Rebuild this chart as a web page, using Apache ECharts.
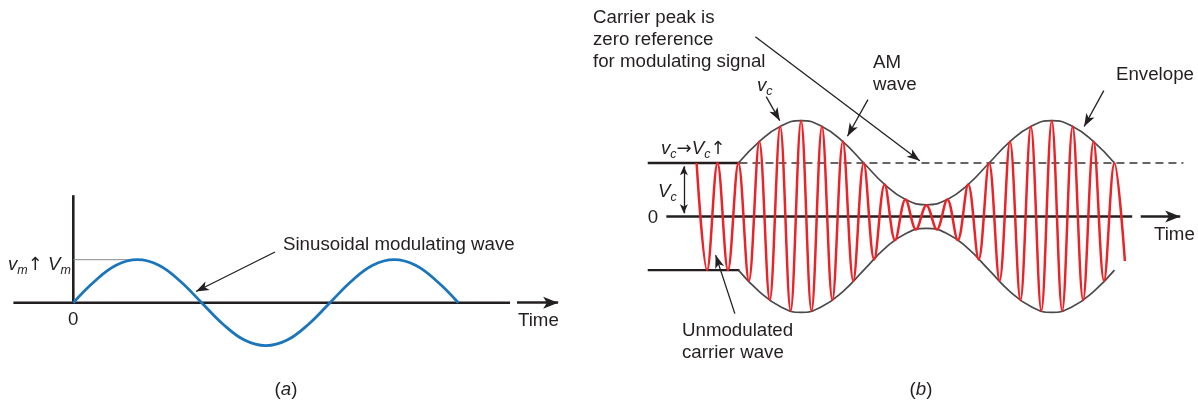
<!DOCTYPE html>
<html><head><meta charset="utf-8">
<script src="https://cdn.jsdelivr.net/npm/echarts@6/dist/echarts.min.js"></script>
<style>html,body{margin:0;padding:0;background:#fff}#c{width:1198px;height:404px}</style>
</head><body><div id="c"></div>
<script>
// ---------- Panel (a): sinusoidal modulating wave (x: phase in degrees, y: units of Vm) ----------
const sineDeg = [0,30,60,90,120,150,180,210,240,270,300,330,360,390,420,450,480,510,540];
const sineVal = [0,0.5,0.87,1,0.87,0.5,0,-0.5,-0.87,-1,-0.87,-0.5,0,0.5,0.87,1,0.87,0.5,0];

// ---------- Panel (b): AM wave (x: time in carrier periods, y: units of Vc) ----------
const carrierT = [0,0.5,1,1.5,2,2.5,3,3.5,4,4.5,5,5.5,6,6.5,7,7.5,8,8.5,9,9.5,10,10.5,
                  11,11.5,12,12.5,13,13.5,14,14.5,15,15.5,16,16.5,17,17.5,18,18.5,19,19.5,20,20.5];
const carrierV = [1,-1,1,-1,1,-1.2,1.4,-1.56,1.68,-1.76,1.79,-1.76,1.68,-1.56,1.4,-1.2,1,-0.8,0.6,-0.44,0.32,-0.24,
                  0.21,-0.24,0.32,-0.44,0.6,-0.8,1,-1.2,1.4,-1.56,1.68,-1.76,1.79,-1.76,1.68,-1.56,1.4,-1.2,1,-0.83];
const envT     = [2,3,4,5,6,7,8,9,10,11,12,13,14,15,16,17,18,19,20];
const envUpper = [1,1.4,1.68,1.79,1.68,1.4,1,0.6,0.32,0.22,0.32,0.6,1,1.4,1.68,1.79,1.68,1.4,1];
const envLower = [-1,-1.4,-1.68,-1.79,-1.68,-1.4,-1,-0.6,-0.32,-0.22,-0.32,-0.6,-1,-1.4,-1.68,-1.79,-1.68,-1.4,-1];

// reference levels and axis extents (data units)
const axisA   = [[-84,0],[612.5,0]];
const vAxisA  = [[0,0],[0,2.5]];
const vmGuide = [[0,1],[91,1]];
const axisB   = [[-1.45,0],[20.85,0]];
const carrierTop = [[-2.34,1],[2.05,1]];
const carrierBot = [[-2.34,-1],[2.05,-1]];
const zeroRef    = [[2.05,1],[23.3,1]];

const FONT = "'Liberation Sans', Arial, sans-serif";
const INK = '#231f20';
const FS = 18.7;

const pairs = (xs, ys) => xs.map((x, i) => [x, ys[i]]);

function arrow(from, to, size, width) {
  return [{coord: from, symbol: 'none', lineStyle: {width: width || 1.3, color: INK, type: 'solid'}},
          {coord: to, symbol: 'arrow', symbolSize: size}];
}

function mk(data) {
  return {silent: true, animation: false, symbol: ['none','arrow'], label: {show: false},
    emphasis: {disabled: true}, lineStyle: {color: INK, width: 1.3, type: 'solid', opacity: 1}, data: data};
}

function line(idx, data, style, extra) {
  return Object.assign({type: 'line', xAxisIndex: idx, yAxisIndex: idx, data: data, symbol: 'none',
    silent: true, animation: false, lineStyle: style, emphasis: {disabled: true}}, extra || {});
}

const RICH = {
  i: {fontStyle: 'italic', fontSize: FS, fontFamily: FONT, lineHeight: 24, fill: INK},
  s: {fontStyle: 'italic', fontSize: 12.5, fontFamily: FONT, lineHeight: 14, verticalAlign: 'bottom', fill: INK},
  n: {fontSize: FS, fontFamily: FONT, lineHeight: 24, fill: INK},
  u: {fontSize: 18, fontFamily: "'DejaVu Sans', sans-serif", lineHeight: 24, fill: INK}
};

const texts = [
  {x: 283, y: 245, t: 'Sinusoidal modulating wave'},
  {x: 518, y: 321, t: 'Time'},
  {x: 73.3, y: 320, t: '0', a: 'center'},
  {x: 8, y: 265, t: '{i|v}{s|m}{u|\u2191}{n| }{i|V}{s|m}'},
  {x: 286, y: 390, t: '{n|(}{i|a}{n|)}', a: 'center'},
  {x: 593, y: 7, t: 'Carrier peak is\nzero reference\nfor modulating signal', v: 'top'},
  {x: 873, y: 52, t: 'AM\nwave', v: 'top'},
  {x: 757, y: 86, t: '{i|v}{s|c}'},
  {x: 1116, y: 75, t: 'Envelope'},
  {x: 661, y: 149, t: '{i|v}{s|c}{u|\u2192}{i|V}{s|c}{u|\u2191}'},
  {x: 658, y: 192, t: '{i|V}{s|c}'},
  {x: 653, y: 218, t: '0', a: 'center'},
  {x: 1154, y: 235, t: 'Time'},
  {x: 682, y: 320, t: 'Unmodulated\ncarrier wave', v: 'top'},
  {x: 921, y: 390, t: '{n|(}{i|b}{n|)}', a: 'center'}
];

const chart = echarts.init(document.getElementById('c'));
chart.setOption({
  animation: false,
  backgroundColor: '#ffffff',
  grid: [
    {left: 9.13, top: 195.2, width: 556.14, height: 193.5},
    {left: 633.95, top: 2.3, width: 576.45, height: 403.5}
  ],
  xAxis: [
    {gridIndex: 0, type: 'value', min: -90, max: 690, show: false},
    {gridIndex: 1, type: 'value', min: -3, max: 24, show: false}
  ],
  yAxis: [
    {gridIndex: 0, type: 'value', min: -2, max: 2.5, show: false},
    {gridIndex: 1, type: 'value', min: -3.5, max: 4, show: false}
  ],
  series: [
    line(0, axisA, {color: INK, width: 2.6}, {markLine: mk([
      arrow([622.3,0],[680,0],[9,15],2.6),
      arrow([282.9,1.18],[172,0.26],[7,13])
    ])}),
    line(0, vAxisA, {color: INK, width: 2.6}),
    line(0, vmGuide, {color: '#8a8a8a', width: 1}),
    line(0, pairs(sineDeg, sineVal), {color: '#1a75bb', width: 2.8}, {smooth: 0.4}),

    line(1, axisB, {color: INK, width: 2.6}, {markLine: mk([
      arrow([21.26,0],[23.15,0],[9,15],2.6),
      arrow([2.81,3.355],[10.68,1.04],[7,13]),
      arrow([8.2,2.184],[7.22,1.5],[7,13]),
      arrow([3.33,2.24],[3.98,1.79],[7,13]),
      arrow([19.49,2.351],[18.55,1.68],[7,13]),
      arrow([1.83,-1.812],[0.91,-0.72],[7,13]),
      [{coord: [-0.61,0.06], symbol: 'arrow', symbolSize: [6,9], lineStyle: {width: 1.3, color: INK, type: 'solid'}},
       {coord: [-0.61,0.94], symbol: 'arrow', symbolSize: [6,9]}]
    ])}),
    line(1, carrierTop, {color: INK, width: 2.4}),
    line(1, carrierBot, {color: INK, width: 2.4}),
    line(1, zeroRef, {color: '#333333', width: 1.6, type: [8,5]}),
    line(1, pairs(envT, envUpper), {color: '#4a4a4a', width: 1.7}, {smooth: 0.5}),
    line(1, pairs(envT, envLower), {color: '#4a4a4a', width: 1.7}, {smooth: 0.5}),
    line(1, pairs(carrierT, carrierV), {color: '#ec2227', width: 2.5}, {smooth: 0.36, z: 3})
  ],
  graphic: texts.map(o => ({
    type: 'text', x: o.x, y: o.y, silent: true,
    style: {text: o.t, fill: INK, fontSize: FS, fontFamily: FONT, lineHeight: 22,
      align: o.a || 'left', verticalAlign: o.v || 'middle', rich: RICH}
  }))
});
</script>
</body></html>
